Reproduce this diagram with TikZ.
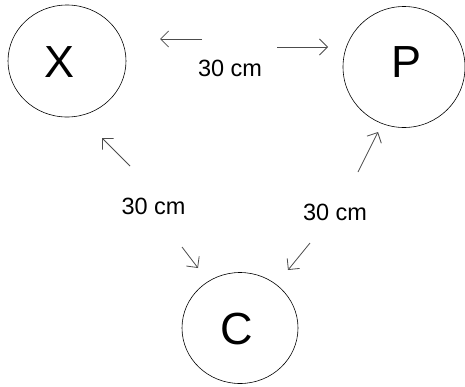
\documentclass[tikz,border=0pt]{standalone}
\usepackage{fontspec}
\setmainfont{Liberation Sans}
\usetikzlibrary{shapes.geometric,arrows.meta}
\begin{document}
\begin{tikzpicture}[x=1pt,y=-1pt,
  place/.style={draw=black,line width=0.6pt,ellipse,inner sep=0pt},
  letter/.style={font=\fontsize{45}{48}\selectfont,inner sep=0pt},
  dist/.style={font=\fontsize{23.5}{26}\selectfont,inner sep=0pt},
  arr/.style={draw=black!70,line width=0.8pt,-{Straight Barb[length=8pt,width=16pt]}}]
\useasboundingbox (0,0) rectangle (465,386);
\node[place,minimum width=118pt,minimum height=112pt] (X) at (67,61) {};
\node[place,minimum width=122pt,minimum height=121pt] (P) at (404,67) {};
\node[place,minimum width=116pt,minimum height=111pt] (C) at (240,328) {};
\node[letter] (Xt) at (60,62) {X};
\node[letter] (Pt) at (407,62.5) {P};
\node[letter] (Ct) at (237,329) {C};
\node[dist] (d1) at (230,68.5) {30 cm};
\node[dist] (d2) at (153.5,206.5) {30 cm};
\node[dist] (d3) at (335,212) {30 cm};
\coordinate (a1s) at (202,39); \coordinate (a1e) at (160,39);
\coordinate (a2s) at (277,47); \coordinate (a2e) at (328,47);
\coordinate (a3s) at (130,166); \coordinate (a3e) at (102,138);
\coordinate (a4s) at (182,247); \coordinate (a4e) at (198,268);
\coordinate (a5s) at (358,172); \coordinate (a5e) at (378,132);
\coordinate (a6s) at (310,243); \coordinate (a6e) at (288,270);
\draw[arr] (a1s) -- (a1e);
\draw[arr] (a2s) -- (a2e);
\draw[arr] (a3s) -- (a3e);
\draw[arr] (a4s) -- (a4e);
\draw[arr] (a5s) -- (a5e);
\draw[arr] (a6s) -- (a6e);
\end{tikzpicture}
\end{document}
